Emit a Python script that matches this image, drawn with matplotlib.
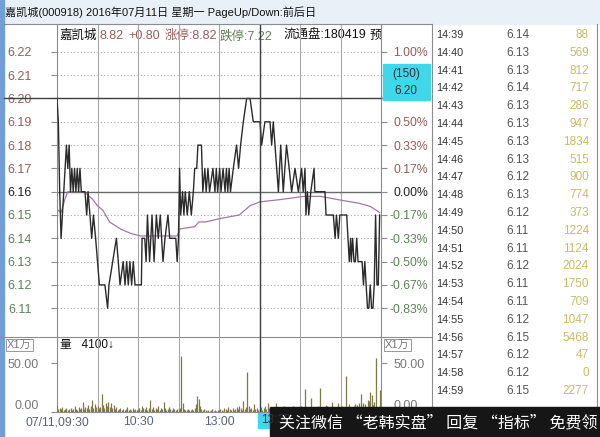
import matplotlib
matplotlib.use("Agg")
import matplotlib.pyplot as plt
from matplotlib.patches import Rectangle

plt.rcParams['font.family'] = ['Liberation Sans', 'Noto Sans CJK SC', 'DejaVu Sans']

W, H = 600, 437

# ─────────────────────────────────────────────
# DATA
# ─────────────────────────────────────────────
PREV_CLOSE = 6.16
CROSS_MIN = 150
CROSS_PRICE = 6.20

# (minute, price) vertices of the intraday line, 09:30 -> 14:38
price_pts = [
    (0, 6.20), (1, 6.19), (2, 6.16), (3, 6.14), (4, 6.15), (5, 6.16), (6, 6.17),
    (7, 6.18), (8, 6.17), (9, 6.18), (10, 6.16), (11, 6.17), (12, 6.16), (13, 6.17),
    (14, 6.16), (15, 6.17), (16, 6.16), (17, 6.17), (18, 6.16), (20.7, 6.16),
    (22, 6.15), (23, 6.16), (24.4, 6.15), (25.7, 6.14), (27, 6.15), (28.6, 6.14),
    (30, 6.13), (31.4, 6.12), (35.5, 6.12), (37.5, 6.11), (38.5, 6.12), (44, 6.14),
    (45.4, 6.13), (46.7, 6.12), (49, 6.13), (50.4, 6.12), (51.6, 6.13), (52.8, 6.12),
    (54, 6.13), (55.3, 6.12), (56.5, 6.13), (57.8, 6.12), (62.5, 6.12), (63, 6.14),
    (65, 6.14), (66, 6.13), (67, 6.15), (68.6, 6.13), (70.4, 6.15), (71.9, 6.13),
    (73.6, 6.15), (75, 6.14), (76.5, 6.15), (78.5, 6.13), (80, 6.14), (82.2, 6.15),
    (83.5, 6.14), (88, 6.14), (89, 6.13), (90, 6.14), (90.8, 6.17), (91.6, 6.15),
    (93, 6.16), (94, 6.15), (95, 6.16), (96.5, 6.15), (98, 6.16), (99.5, 6.15),
    (101, 6.16), (102, 6.17), (103.5, 6.17), (104.4, 6.18), (107, 6.18), (108, 6.16),
    (109.5, 6.17), (110.5, 6.16), (111.8, 6.17), (113, 6.16), (115.5, 6.17), (117, 6.16),
    (118, 6.17), (119, 6.16), (120.5, 6.17), (121.5, 6.16), (123, 6.17), (124.5, 6.16),
    (125.5, 6.17), (126.5, 6.16), (127.5, 6.17), (128.5, 6.16), (130.6, 6.17), (133, 6.18),
    (134.5, 6.17), (136, 6.18), (138, 6.19), (140.5, 6.20), (143, 6.20), (145.4, 6.19),
    (150.4, 6.19), (151.6, 6.18), (154, 6.19), (157.8, 6.19), (159, 6.18), (160.2, 6.19),
    (162.7, 6.17), (164, 6.16), (165.7, 6.18), (167.6, 6.16), (170, 6.18), (172, 6.17),
    (173.8, 6.16), (176.3, 6.17), (178.8, 6.16), (181.2, 6.17), (182.4, 6.16), (183.7, 6.17),
    (184.4, 6.15), (185.5, 6.16), (186.5, 6.15), (188, 6.16), (190.4, 6.17), (191, 6.16),
    (198.5, 6.16), (199.3, 6.15), (204.7, 6.15), (206, 6.14), (207, 6.15), (208.4, 6.14),
    (209.5, 6.15), (214.6, 6.15), (216.5, 6.13), (217.5, 6.14), (218, 6.13),
]

# average price line (minute, price)
avg_pts = [
    (1, 6.152), (3, 6.151), (6, 6.157), (8, 6.160), (20, 6.160), (22, 6.159),
    (26, 6.157), (30, 6.154), (34, 6.152), (39, 6.147), (47, 6.144), (55, 6.142),
    (62, 6.141), (76, 6.141), (89, 6.141), (91, 6.144), (102, 6.145), (105, 6.147),
    (110, 6.147), (121, 6.1485), (135, 6.150), (139, 6.152), (143, 6.154), (150, 6.1556),
    (165, 6.1566), (183, 6.158), (195, 6.158), (210, 6.1564), (224, 6.155),
    (232, 6.1537), (238, 6.1515), (239, 6.151),
]

# minute volume (x1万股), minutes 0..218
vol_early = [
    6, 3, 4, 3, 5, 2, 3, 4, 2, 3,
    4, 2, 3, 6, 3, 2, 5, 3, 4, 10,
    3, 5, 4, 7, 3, 6, 12, 4, 8, 5,
    6, 4, 5, 18, 7, 4, 9, 6, 10, 5,
    9, 4, 7, 3, 5, 2, 3, 4, 2, 3,
    2, 3, 5, 2, 3, 2, 4, 2, 3, 2,
    3, 4, 2, 6, 4, 3, 5, 2, 4, 12,
    3, 5, 2, 4, 3, 6, 2, 4, 3, 10,
    4, 2, 3, 5, 3, 2, 4, 3, 2, 3,
    3, 4, 57, 9, 3, 2, 2, 3, 2, 2,
    3, 2, 4, 8, 16, 13, 6, 3, 2, 3,
    2, 1, 2, 1, 2, 3, 1, 2, 1, 2,
    2, 3, 2, 1, 4, 3, 2, 5, 3, 2,
    4, 2, 3, 5, 3, 6, 4, 2, 11, 3,
    5, 41, 6, 3, 4, 2, 8, 3, 4, 2,
    3, 5, 2, 4, 6, 3, 9, 4, 2, 3,
    4, 3, 9, 5, 3, 2, 4, 3, 6, 2,
    3, 4, 2, 5, 3, 6, 2, 4, 3, 5,
    4, 6, 3, 5, 23, 4, 3, 2, 14, 3,
    5, 3, 4, 6, 3, 24, 4, 3, 5, 7,
    6, 4, 3, 5, 10, 4, 3, 5, 9, 3,
    4, 6, 3, 5, 37, 4, 8, 3, 5,
]

# right-hand tick table, 14:39 .. 14:59 (volume in 手)
tbl_time = ["14:39", "14:40", "14:41", "14:42", "14:43", "14:44", "14:45",
            "14:46", "14:47", "14:48", "14:49", "14:50", "14:51", "14:52",
            "14:53", "14:54", "14:55", "14:56", "14:57", "14:58", "14:59"]
tbl_price = [6.14, 6.13, 6.13, 6.14, 6.13, 6.13, 6.13, 6.13, 6.12, 6.13, 6.12,
             6.11, 6.11, 6.12, 6.11, 6.11, 6.12, 6.15, 6.12, 6.12, 6.15]
tbl_vol = [88, 569, 812, 717, 286, 947, 1834, 515, 900, 774, 373,
           1224, 1124, 2024, 1750, 709, 1047, 5468, 47, 0, 2277]
TBL_START_MIN = 219

price_ticks = [6.22, 6.21, 6.20, 6.19, 6.18, 6.17, 6.16, 6.15, 6.14, 6.13, 6.12, 6.11]
# 6.21 / 6.20 percent labels sit under the crosshair price box
pct_labels = ["1.00%", "", "", "0.50%", "0.33%", "0.17%", "0.00%",
              "-0.17%", "-0.33%", "-0.50%", "-0.67%", "-0.83%"]
time_ticks = [0, 60, 120]
time_labels = ["07/11,09:30", "10:30", "13:00"]
vol_ticks = [0, 50]
vol_labels = ["0.00", "50.00"]

# ─────────────────────────────────────────────
# COLOURS
# ─────────────────────────────────────────────
UP_C = "#9a5a5a"
DN_C = "#5f7f5a"
GRID_C = "#a8a8a8"
FRAME_C = "#8c8c8c"
CYAN = "#3fd8ea"


def rect(x0, y0, x1, y1):
    return [x0 / W, 1 - y1 / H, (x1 - x0) / W, (y1 - y0) / H]


def tick_color(p):
    if p > PREV_CLOSE + 1e-9:
        return UP_C
    if p < PREV_CLOSE - 1e-9:
        return DN_C
    return "#222222"


fig = plt.figure(figsize=(W / 100, H / 100), dpi=100)
fig.patch.set_facecolor("white")

# background layer: window chrome, header, table
bg = fig.add_axes([0, 0, 1, 1], zorder=0)
bg.set_xlim(0, W)
bg.set_ylim(H, 0)
bg.axis("off")
bg.add_patch(Rectangle((0, 0), W, 24, color="#e9f0f8"))
bg.add_patch(Rectangle((0, 0), 4, H, color="#6f9fd6"))
bg.plot([4, 432], [24, 24], color=FRAME_C, lw=0.8)
bg.plot([0, 432], [337, 337], color=FRAME_C, lw=0.8)
bg.plot([432, 432], [24, H], color=FRAME_C, lw=0.8)
bg.plot([597, 597], [24, H], color=FRAME_C, lw=0.8)
bg.text(5, 12, "嘉凯城(000918) 2016年07月11日 星期一 PageUp/Down:前后日",
        fontsize=8, va="center", color="#111111")

# header line inside the chart
hdr = [(60, "嘉凯城", "#111111"), (100, "8.82", UP_C), (128, "+0.80", UP_C),
       (165, "涨停:8.82", UP_C), (220, "跌停:7.22", DN_C), (283, "流通盘:180419", "#111111")]
for x, s, c in hdr:
    bg.text(x, 36, s, fontsize=9, va="center", color=c)
bg.text(370, 36, "预", fontsize=9, va="center", color="#111111")

# volume panel side labels
for x0 in (7, 385):
    bg.text(x0, 345, "X1万", fontsize=8, va="center", color="#777777",
            bbox=dict(boxstyle="square,pad=0.1", fc="white", ec="#999999", lw=0.7))
bg.text(60, 345, "量   4100↓", fontsize=8.5, va="center", color="#111111")

# tick table
for i, (t, p, v) in enumerate(zip(tbl_time, tbl_price, tbl_vol)):
    y = 35 + i * 17.8
    bg.text(436, y, t, fontsize=7.8, va="center", color="#333333")
    bg.text(506, y, f"{p:.2f}", fontsize=8.5, va="center", color="#555555")
    bg.text(589, y, str(v), fontsize=8.5, va="center", ha="right", color="#c4bd66")

# ─────────────────────────────────────────────
# PRICE PANEL
# ─────────────────────────────────────────────
y_hi = PREV_CLOSE + (191.7 - 25) / 2330
y_lo = PREV_CLOSE - (337 - 191.7) / 2330

ax = fig.add_axes(rect(57, 25, 381, 337), zorder=2)
ax.patch.set_alpha(0)
ax.set_xlim(0, 240)
ax.set_ylim(y_lo, y_hi)
for s in ("top", "bottom"):
    ax.spines[s].set_visible(False)
for s in ("left", "right"):
    ax.spines[s].set_color(FRAME_C)

for m in range(30, 240, 30):
    ax.axvline(m, color=GRID_C, lw=0.8, zorder=1)
for p in price_ticks:
    if abs(p - PREV_CLOSE) < 1e-9:
        ax.axhline(p, color="#6a6a6a", lw=1.0, zorder=1)
    else:
        ax.axhline(p, color=GRID_C, lw=0.8, ls=(0, (1, 2)), zorder=1)

pm = [a for a, b in price_pts] + list(range(TBL_START_MIN, TBL_START_MIN + len(tbl_price)))
pv = [b for a, b in price_pts] + tbl_price
ax.plot(pm, pv, color="#2b2b2b", lw=1.0, zorder=4)
ax.plot([a for a, b in avg_pts], [b for a, b in avg_pts], color="#a07aa0", lw=0.9, zorder=3)

ax.set_xticks([])
ax.set_yticks(price_ticks)
ax.set_yticklabels([f"{p:.2f}" for p in price_ticks])
ax.tick_params(axis="y", direction="out", length=4, color=FRAME_C, pad=14, labelsize=9)
for lab, p in zip(ax.get_yticklabels(), price_ticks):
    lab.set_color(tick_color(p))

ax2 = ax.twinx()
ax2.set_ylim(y_lo, y_hi)
ax2.set_yticks(price_ticks)
ax2.set_yticklabels(pct_labels)
ax2.tick_params(axis="y", direction="out", length=4, color=FRAME_C, pad=30, labelsize=8.8)
for lab, p in zip(ax2.get_yticklabels(), price_ticks):
    lab.set_color(tick_color(p))
    lab.set_horizontalalignment("right")
for s in ax2.spines.values():
    s.set_visible(False)

# crosshair
ax.axvline(CROSS_MIN, color="#404040", lw=1.0, zorder=5)
ax.axhline(CROSS_PRICE, xmin=-53 / 324, xmax=1 + 49 / 324, color="#404040",
           lw=1.0, zorder=5, clip_on=False)

# ─────────────────────────────────────────────
# VOLUME PANEL
# ─────────────────────────────────────────────
vol = vol_early + [v / 100 for v in tbl_vol]
vax = fig.add_axes(rect(57, 337, 381, 412), zorder=2)
vax.patch.set_alpha(0)
vax.set_xlim(0, 240)
vax.set_ylim(0, (412 - 337) / (412 - 363) * 50)
vax.spines["top"].set_visible(False)
vax.spines["bottom"].set_color(FRAME_C)
for s in ("left", "right"):
    vax.spines[s].set_color(FRAME_C)
for m in range(30, 240, 30):
    vax.axvline(m, color=GRID_C, lw=0.8, zorder=1)
vax.axvline(CROSS_MIN, color="#404040", lw=1.0, zorder=5)
vax.vlines(range(len(vol)), 0, vol, color="#7d7a48", lw=0.9, zorder=3)

vax.set_yticks(vol_ticks)
vax.set_yticklabels(vol_labels)
vax.tick_params(axis="y", direction="out", length=4, color=FRAME_C, pad=9,
                labelsize=9, labelcolor="#777777")
vax.get_yticklabels()[0].set_verticalalignment("bottom")
vax.set_xticks(time_ticks)
vax.set_xticklabels(time_labels)
vax.tick_params(axis="x", length=0, pad=3, labelsize=8.8, labelcolor="#5a6470")

vax2 = vax.twinx()
vax2.set_ylim(vax.get_ylim())
vax2.set_yticks(vol_ticks)
vax2.set_yticklabels(vol_labels)
vax2.tick_params(axis="y", direction="out", length=4, color=FRAME_C, pad=5,
                 labelsize=9, labelcolor="#777777")
vax2.get_yticklabels()[0].set_verticalalignment("bottom")
for s in vax2.spines.values():
    s.set_visible(False)

# ─────────────────────────────────────────────
# OVERLAY: crosshair labels + watermark banner
# ─────────────────────────────────────────────
ov = fig.add_axes([0, 0, 1, 1], zorder=10)
ov.set_xlim(0, W)
ov.set_ylim(H, 0)
ov.axis("off")
ov.add_patch(Rectangle((383, 64), 47, 36, color=CYAN))
ov.text(406, 74, f"({CROSS_MIN})", fontsize=8.5, ha="center", va="center", color="#333333")
ov.text(406, 91, f"{CROSS_PRICE:.2f}", fontsize=8.5, ha="center", va="center", color="#333333")
tbox = Rectangle((258, 413), 12, 15, color=CYAN)
ov.add_patch(tbox)
tlab = ov.text(261, 420, "13:30", fontsize=8.5, va="center", color="#333333")
tlab.set_clip_path(tbox)
ov.add_patch(Rectangle((270, 407), W - 270, H - 407, color="#161616"))
ov.text(279, 423, "关注微信 “老韩实盘” 回复 “指标” 免费领", fontsize=11.5,
        va="center", color="white", family=["Noto Sans CJK SC"])

fig.savefig("out.png", dpi=100)
